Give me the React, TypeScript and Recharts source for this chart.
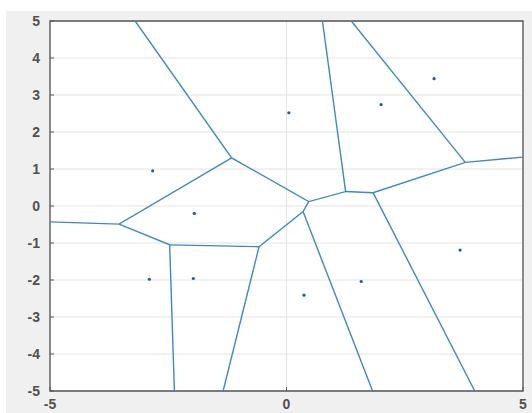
import {
  CartesianGrid,
  ReferenceArea,
  Scatter,
  ScatterChart,
  XAxis,
  YAxis,
} from "recharts";

// seed points of the diagram
const sites = [
  { x: -2.83, y: 0.95 },
  { x: 0.05, y: 2.52 },
  { x: 2.0, y: 2.74 },
  { x: 3.12, y: 3.44 },
  { x: -1.95, y: -0.2 },
  { x: -2.9, y: -1.98 },
  { x: -1.97, y: -1.96 },
  { x: 0.37, y: -2.41 },
  { x: 1.58, y: -2.04 },
  { x: 3.67, y: -1.19 },
];

// voronoi edges, as polylines
const edgeA = [
  { x: -3.2, y: 5 },
  { x: -1.16, y: 1.3 },
  { x: 0.47, y: 0.12 },
  { x: 1.25, y: 0.39 },
  { x: 0.76, y: 5 },
];
const edgeB = [
  { x: -1.16, y: 1.3 },
  { x: -3.54, y: -0.49 },
  { x: -5, y: -0.43 },
];
const edgeC = [
  { x: -2.37, y: -5 },
  { x: -2.47, y: -1.05 },
  { x: -3.54, y: -0.49 },
];
const edgeD = [
  { x: -2.47, y: -1.05 },
  { x: -0.58, y: -1.1 },
  { x: -1.34, y: -5 },
];
const edgeE = [
  { x: -0.58, y: -1.1 },
  { x: 0.35, y: -0.15 },
  { x: 0.47, y: 0.12 },
];
const edgeF = [
  { x: 0.35, y: -0.15 },
  { x: 1.82, y: -5 },
];
const edgeG = [
  { x: 1.25, y: 0.39 },
  { x: 1.83, y: 0.36 },
  { x: 3.78, y: 1.18 },
  { x: 5, y: 1.32 },
];
const edgeH = [
  { x: 1.83, y: 0.36 },
  { x: 3.98, y: -5 },
];
const edgeI = [
  { x: 3.78, y: 1.18 },
  { x: 1.37, y: 5 },
];

const edges = [edgeA, edgeB, edgeC, edgeD, edgeE, edgeF, edgeG, edgeH, edgeI];

const xTicks = [-5, 0, 5];
const yTicks = [-5, -4, -3, -2, -1, 0, 1, 2, 3, 4, 5];

const tickStyle = {
  fill: "#505050",
  fontSize: 14,
  fontWeight: 600,
  fontFamily: "'Liberation Sans', Arial, sans-serif",
};

const App = () => {
  return (
    <div
      style={{
        position: "absolute",
        left: 0,
        top: 0,
        width: 532,
        height: 413,
        background: "#fff",
      }}
    >
      <div
        style={{
          position: "absolute",
          left: 6,
          top: 11,
          right: 0,
          bottom: 0,
          background: "#f0f0f0",
        }}
      />
      <div style={{ position: "absolute", left: 0, top: 0 }}>
        <ScatterChart
          width={532}
          height={413}
          margin={{ top: 21, right: 9, bottom: 0, left: 10 }}
        >
          <CartesianGrid stroke="#e4e4e4" fill="#ffffff" />
          <XAxis
            type="number"
            dataKey="x"
            domain={[-5, 5]}
            ticks={xTicks}
            allowDataOverflow
            height={22}
            axisLine={false}
            tickSize={-4}
            tickMargin={12}
            tickLine={{ stroke: "#555" }}
            tick={tickStyle}
          />
          <YAxis
            type="number"
            dataKey="y"
            domain={[-5, 5]}
            ticks={yTicks}
            allowDataOverflow
            width={40}
            axisLine={false}
            tickSize={-4}
            tickMargin={14}
            tickLine={{ stroke: "#555" }}
            tick={tickStyle}
          />
          {edges.map((e, i) => (
            <Scatter
              key={i}
              data={e}
              line={{ stroke: "#4089bf", strokeWidth: 1.4 }}
              shape={() => <g />}
              isAnimationActive={false}
            />
          ))}
          <Scatter
            data={sites}
            shape={(p: any) => (
              <circle cx={p.cx} cy={p.cy} r={1.6} fill="#1f5f8e" />
            )}
            isAnimationActive={false}
          />
          <ReferenceArea
            x1={-5}
            x2={5}
            y1={-5}
            y2={5}
            fill="none"
            stroke="#555555"
            strokeWidth={1.3}
          />
        </ScatterChart>
      </div>
    </div>
  );
};

export default App;
